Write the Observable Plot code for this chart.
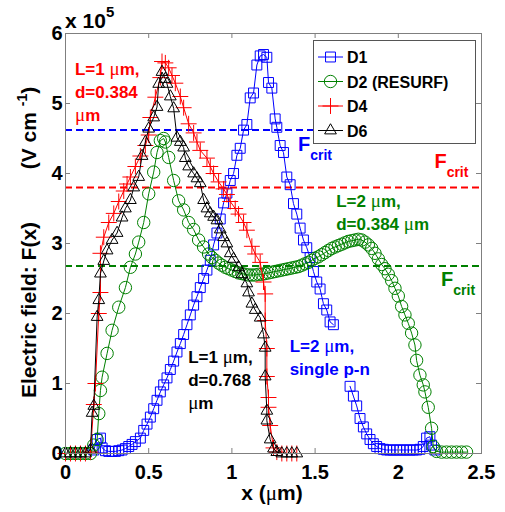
<!DOCTYPE html>
<html><head><meta charset="utf-8">
<script src="https://cdn.jsdelivr.net/npm/d3@7"></script>
<script src="https://cdn.jsdelivr.net/npm/@observablehq/plot@0.6"></script>
<style>body{margin:0;background:#fff} svg{display:block}</style>
</head><body><div id="chart"></div>
<script>
// ---------- data (values in units of 10^5 V/cm, x in µm) ----------
const xTicks = [0, 0.5, 1, 1.5, 2, 2.5];
const xTickLabels = ["0", "0.5", "1", "1.5", "2", "2.5"];
const yTicks = [0, 1, 2, 3, 4, 5, 6];
const yTickLabels = ["0", "1", "2", "3", "4", "5", "6"];

const seriesNames = ["D1", "D2 (RESURF)", "D4", "D6"];

const d1x = [0.17,0.19,0.21,0.22,0.24,0.26,0.28,0.30,0.32,0.34,0.36,0.38,0.40,0.42,0.45,0.47,0.49,0.51,0.53,0.55,0.57,0.59,0.61,0.63,0.65,0.67,0.69,0.71,0.73,0.75,0.77,0.79,0.81,0.83,0.85,0.87,0.89,0.91,0.93,0.95,0.97,0.99,1.01,1.03,1.05,1.07,1.09,1.11,1.13,1.15,1.17,1.19,1.21,1.22,1.24,1.26,1.27,1.29,1.31,1.33,1.35,1.37,1.39,1.41,1.43,1.45,1.47,1.49,1.51,1.53,1.55,1.57,1.59,1.61,1.66,1.71,1.73,1.75,1.77,1.79,1.81,1.83,1.85,1.87,1.89,1.91,1.93,1.95,1.97,1.99,2.01,2.03,2.05,2.07,2.09,2.11,2.13,2.15,2.17,2.19,2.20,2.22];
const d1y = [0.05,0.20,0.22,0.08,0.04,0.03,0.03,0.03,0.04,0.05,0.07,0.10,0.13,0.17,0.22,0.33,0.42,0.52,0.64,0.76,0.88,0.98,1.08,1.20,1.32,1.45,1.57,1.70,1.84,1.98,2.12,2.24,2.37,2.50,2.62,2.76,2.98,3.15,3.35,3.58,3.72,3.90,4.00,4.26,4.36,4.62,4.70,5.08,5.15,5.55,5.68,5.70,5.66,5.30,5.22,4.78,4.66,4.40,4.30,3.95,3.84,3.57,3.42,3.22,3.05,2.94,2.80,2.60,2.45,2.35,2.14,2.05,1.88,1.84,null,0.96,0.82,0.68,0.50,0.38,0.28,0.20,0.14,0.10,0.07,0.06,0.05,0.05,0.05,0.05,0.05,0.05,0.05,0.05,0.05,0.05,0.06,0.10,0.22,0.24,0.12,0.05];

const d2x = [0,0.03,0.06,0.09,0.12,0.15,0.17,0.19,0.20,0.21,0.22,0.25,0.28,0.32,0.36,0.39,0.42,0.44,0.47,0.50,0.53,0.55,0.57,0.59,0.60,0.62,0.65,0.68,0.71,0.74,0.77,0.80,0.83,0.86,0.88,0.90,0.92,0.94,0.96,0.98,1.00,1.02,1.04,1.06,1.08,1.10,1.12,1.14,1.16,1.18,1.20,1.22,1.24,1.26,1.28,1.30,1.32,1.34,1.36,1.38,1.40,1.42,1.44,1.46,1.48,1.50,1.52,1.54,1.56,1.58,1.60,1.62,1.64,1.66,1.68,1.70,1.72,1.74,1.76,1.78,1.80,1.82,1.84,1.86,1.88,1.90,1.92,1.94,1.96,1.98,2.00,2.02,2.04,2.06,2.08,2.10,2.11,2.13,2.15,2.16,2.18,2.20,2.21,2.23,2.26,2.29,2.32,2.35,2.38,2.41];
const d2y = [0,0,0,0,0,0,0.12,0.20,0.57,0.90,1.09,1.43,1.76,2.09,2.37,2.66,2.85,3.02,3.30,3.71,4.02,4.30,4.47,4.50,4.45,4.23,3.90,3.61,3.48,3.30,3.20,3.05,2.95,2.85,2.80,2.76,2.72,2.69,2.66,2.64,2.62,2.60,2.58,2.57,2.56,2.55,2.55,2.55,2.56,2.56,2.57,2.58,2.59,2.60,2.61,2.62,2.63,2.64,2.65,2.66,2.67,2.69,2.71,2.73,2.76,2.79,2.81,2.84,2.87,2.90,2.93,2.95,2.97,2.99,3.01,3.03,3.04,3.05,3.06,3.05,3.02,2.98,2.93,2.86,2.78,2.70,2.64,2.56,2.47,2.36,2.25,2.10,1.98,1.86,1.72,1.55,1.33,1.12,0.98,0.88,0.66,0.36,0.10,0.03,0.02,0.02,0.02,0.02,0.02,0.02];

const d4x = [0,0.03,0.06,0.09,0.12,0.15,0.17,0.18,0.20,0.21,0.21,0.23,0.26,0.29,0.32,0.35,0.37,0.39,0.42,0.45,0.48,0.50,0.51,0.54,0.57,0.58,0.60,0.62,0.64,0.66,0.69,0.71,0.74,0.77,0.79,0.81,0.85,0.87,0.89,0.92,0.95,0.97,0.99,1.02,1.04,1.07,1.09,1.12,1.14,1.17,1.19,1.20,1.20,1.21,1.21,1.22,1.22,1.23,1.25,1.27,1.30,1.33,1.36,1.39];
const d4y = [0,0,0,0,0,0.02,0.70,1.00,2.00,2.30,2.86,3.09,3.30,3.43,3.60,3.75,3.85,3.95,4.10,4.25,4.40,4.55,4.80,5.09,5.37,5.60,5.58,5.51,5.40,5.29,5.10,4.94,4.71,4.58,4.45,4.33,4.22,4.10,4.00,3.88,3.78,3.70,3.60,3.50,3.42,3.30,3.19,2.96,2.85,2.73,2.45,2.28,1.90,1.50,1.10,0.80,0.66,0.40,0.08,0.02,0,0,0,0];

const d6x = [0,0.03,0.06,0.09,0.12,0.15,0.16,0.17,0.19,0.20,0.21,0.23,0.25,0.28,0.31,0.34,0.36,0.39,0.41,0.44,0.46,0.48,0.50,0.53,0.55,0.56,0.58,0.60,0.61,0.63,0.65,0.67,0.69,0.71,0.72,0.74,0.77,0.79,0.81,0.83,0.85,0.87,0.89,0.91,0.93,0.95,0.97,0.99,1.01,1.04,1.06,1.09,1.10,1.12,1.14,1.17,1.19,1.20,1.20,1.21,1.21,1.23,1.25,1.27,1.30,1.33,1.36,1.39];
const d6y = [0,0,0,0,0,0.05,0.58,0.68,1.95,2.19,2.57,2.75,2.90,3.05,3.15,3.37,3.50,3.62,3.80,3.95,4.25,4.45,4.64,4.80,4.95,5.28,5.45,5.35,5.28,5.10,4.93,4.51,4.45,4.37,4.22,4.10,4.00,3.93,3.86,3.62,3.50,3.43,3.38,3.33,3.20,3.09,3.00,2.86,2.78,2.66,2.56,2.43,2.30,2.14,2.05,1.94,1.70,1.51,1.10,0.61,0.47,0.20,0.07,0.02,0,0,0,0];

// critical field levels (10^5 V/cm) and extent of each dashed line
const fcritLevels = [4.62, 3.80, 2.68];
const fcritStart = [0, 0, 0];
const fcritEnd = [1.52, 2.5, 2.5];

// ---------- styling ----------
const colors = ["#0000ff", "#008000", "#ff0000", "#000000"];
const symbols = ["square", "circle", "plus", "triangle2"];
const radii = [5.6, 6.2, 5.2, 5.6];
const FONT = "'Liberation Sans', Arial, Helvetica, sans-serif";
const W = 505, H = 512, mL = 65, mR = 24, mT = 33, mB = 59;
const plotW = W - mL - mR, plotH = H - mT - mB;
const axisGray = "#7f7f7f";

const rows = (xs, ys) => xs.map((x, i) => ({x, y: ys[i]}));
const series = [rows(d1x, d1y), rows(d2x, d2y), rows(d4x, d4y), rows(d6x, d6y)];
const fcrit = fcritLevels.map((v, i) => ({y: v, x1: fcritStart[i], x2: fcritEnd[i], c: [colors[0], colors[2], colors[1]][i]}));

const seriesMarks = series.flatMap((data, i) => [
  Plot.line(data, {x: "x", y: "y", stroke: colors[i], strokeWidth: 1}),
  Plot.dot(data, {x: "x", y: "y", symbol: () => symbols[i], r: radii[i], stroke: colors[i], fill: "none", strokeWidth: 1})
]);

const chart = Plot.plot({
  width: W, height: H,
  marginLeft: mL, marginRight: mR, marginTop: mT, marginBottom: mB,
  style: {fontFamily: FONT, fontWeight: "bold", fontSize: "20px", color: "#000", background: "#fff"},
  x: {domain: [0, 2.5], label: null},
  y: {domain: [0, 6], label: null},
  symbol: {type: "identity"},
  marks: [
    Plot.ruleY(fcrit, {y: "y", x1: "x1", x2: "x2", stroke: "c", strokeWidth: 2, strokeDasharray: "7,4"}),
    ...seriesMarks,
    Plot.frame({stroke: axisGray}),
    Plot.ruleX(xTicks, {x: d => d, stroke: axisGray, insetTop: plotH - 5}),
    Plot.ruleX(xTicks, {x: d => d, stroke: axisGray, insetBottom: plotH - 5}),
    Plot.ruleY(yTicks, {y: d => d, stroke: axisGray, insetRight: plotW - 5}),
    Plot.ruleY(yTicks, {y: d => d, stroke: axisGray, insetLeft: plotW - 5}),
    Plot.axisX(xTicks, {tickSize: 0, tickPadding: 11, tickFormat: d => xTickLabels[xTicks.indexOf(d)], label: null}),
    Plot.axisY(yTicks, {tickSize: 0, tickPadding: 3, tickFormat: d => yTickLabels[yTicks.indexOf(d)], label: null})
  ]
});
document.getElementById("chart").appendChild(chart);

// ---------- texts with sub/superscripts, annotations, legend ----------
const svg = d3.select(chart);
const sx = chart.scale("x"), sy = chart.scale("y");
const X = v => sx.apply(v), Y = v => sy.apply(v);

function addText(attrs) {
  const t = svg.append("text").attr("text-anchor", "start").attr("font-weight", "bold").attr("fill", "#000");
  for (const k in attrs) t.attr(k, attrs[k]);
  return t;
}
function mu(sel) { sel.append("tspan").attr("font-family", "'Liberation Serif', serif").attr("font-weight", "normal").text("\u03bc"); }

// exponent label
const ex = addText({x: 65, y: 28, "font-size": 21});
ex.append("tspan").text("x 10");
ex.append("tspan").attr("dy", -11).attr("font-size", 15).text("5");

// y axis label
addText({transform: "translate(36,310) rotate(-90)", "text-anchor": "middle", "font-size": 21}).text("Electric field: F(x)");
const yl2 = addText({transform: "translate(36,128) rotate(-90)", "text-anchor": "middle", "font-size": 21});
yl2.append("tspan").text("(V cm ");
yl2.append("tspan").attr("dy", -9).attr("font-size", 14).text("-1");
yl2.append("tspan").attr("dy", 9).text(")");

// x axis label
const xl = addText({x: 272, y: 500, "text-anchor": "middle", "font-size": 21});
xl.append("tspan").text("x (");
mu(xl);
xl.append("tspan").text("m)");

// multi-line annotations: position in data units (baseline of first line)
const notes = [
  {x: 0.06, y: 5.4, c: colors[2], lines: [["L=1 ", "mu", "m,"], ["d=0.384"], ["mu", "m"]]},
  {x: 1.63, y: 3.52, c: colors[1], lines: [["L=2 ", "mu", "m,"], ["d=0.384 ", "mu", "m"]]},
  {x: 0.74, y: 1.28, c: colors[3], lines: [["L=1 ", "mu", "m,"], ["d=0.768"], ["mu", "m"]]},
  {x: 1.35, y: 1.45, c: colors[0], lines: [["L=2 ", "mu", "m,"], ["single p-n"]]}
];
for (const n of notes) {
  const t = addText({"font-size": 17, fill: n.c});
  n.lines.forEach((parts, li) => {
    parts.forEach((p, pi) => {
      const ts = t.append("tspan");
      if (pi === 0) ts.attr("x", X(n.x)).attr("y", Y(n.y) + li * 23);
      if (p === "mu") ts.attr("font-family", "'Liberation Serif', serif").attr("font-weight", "normal").attr("font-size", 19).text("\u03bc");
      else ts.text(p);
    });
  });
}

// F_crit labels
const fLabels = [{x: 1.40, y: 4.31, c: colors[0]}, {x: 2.22, y: 4.07, c: colors[2]}, {x: 2.26, y: 2.39, c: colors[1]}];
for (const f of fLabels) {
  const t = addText({x: X(f.x), y: Y(f.y), "font-size": 20, fill: f.c});
  t.append("tspan").text("F");
  t.append("tspan").attr("dy", 9).attr("font-size", 14).text("crit");
}

// legend
const lg = svg.append("g");
lg.append("rect").attr("x", 313.5).attr("y", 40.5).attr("width", 162).attr("height", 103).attr("fill", "#fff").attr("stroke", "#555");
const symMap = {square: d3.symbolSquare, circle: d3.symbolCircle, plus: d3.symbolPlus, triangle2: d3.symbolTriangle2};
seriesNames.forEach((name, i) => {
  const yy = 57 + i * 24.5;
  lg.append("line").attr("x1", 318).attr("x2", 343).attr("y1", yy).attr("y2", yy).attr("stroke", colors[i]).attr("stroke-width", 1);
  lg.append("path").attr("transform", `translate(330.5,${yy})`).attr("d", d3.symbol(symMap[symbols[i]], Math.PI * radii[i] * radii[i])()).attr("fill", "none").attr("stroke", colors[i]);
  lg.append("text").attr("text-anchor", "start").attr("x", 347).attr("y", yy + 6).attr("font-size", 16).attr("font-weight", "bold").attr("fill", "#000").text(name);
});
</script>
</body></html>
